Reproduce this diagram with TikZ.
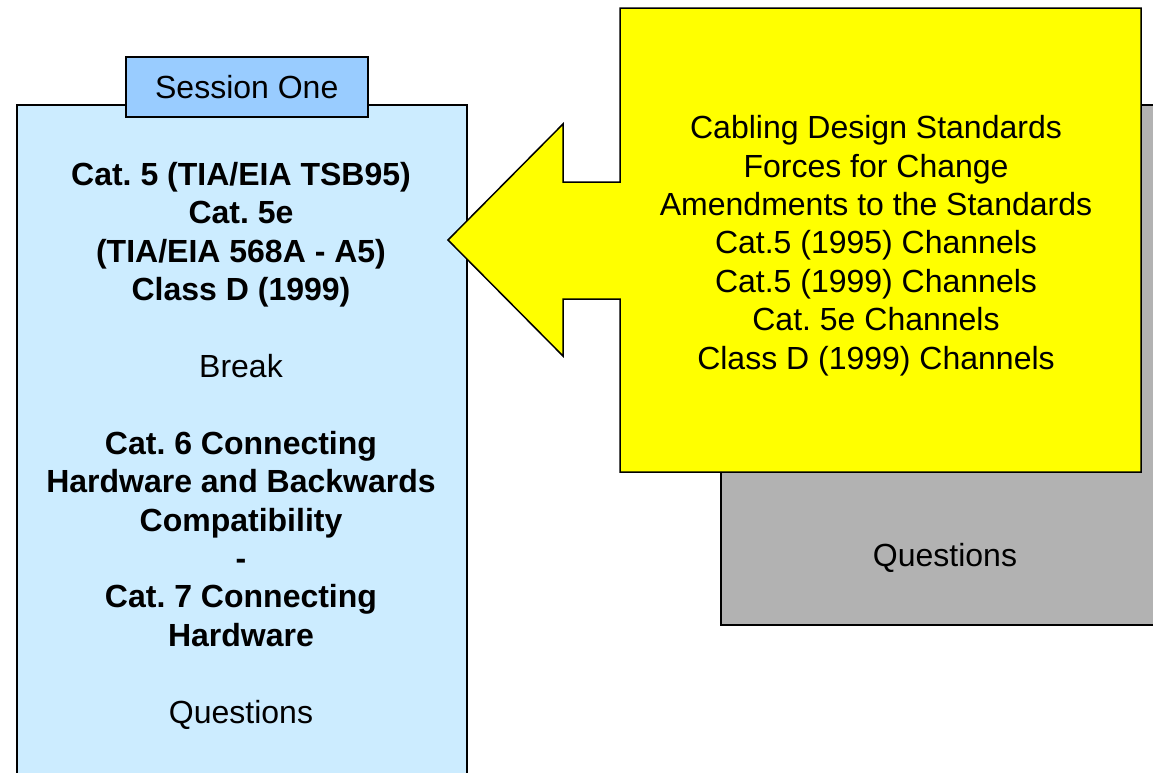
\documentclass[tikz,border=0pt]{standalone}
\usepackage{fontspec}
\setmainfont{Liberation Sans}
\frenchspacing
\definecolor{lightblue}{HTML}{CCECFF}
\definecolor{tabblue}{HTML}{99CCFF}
\definecolor{boxgray}{HTML}{B2B2B2}
\definecolor{hiyellow}{HTML}{FFFF00}
\tikzset{
  panel/.style={draw=black, line width=1.5pt, inner sep=0pt, anchor=north west},
  txt/.style={align=center, inner sep=0pt, font=\fontsize{32}{38.4}\selectfont\frenchspacing},
}
\begin{document}
\begin{tikzpicture}[x=1pt, y=-1pt]
\useasboundingbox (0,0) rectangle (1153,772);
\fill[white] (0,0) rectangle (1153,772);
\begin{scope}
\clip (0,0) rectangle (1153,772);
% session panel
\node[panel, fill=lightblue, minimum width=450pt, minimum height=720pt] (session) at (16,104) {};
% gray panel behind
\node[panel, fill=boxgray, minimum width=450pt, minimum height=520pt] (graybox) at (720,104) {};
\end{scope}
% yellow callout with arrow
\draw[line width=1.5pt, fill=hiyellow, line join=miter]
  (620,8) -- (1141,8) -- (1141,472) -- (620,472) -- (620,299) -- (563,299)
  -- (563,356) -- (448,240) -- (563,124) -- (563,182) -- (620,182) -- cycle;
% tab
\node[panel, fill=tabblue, minimum width=242pt, minimum height=60pt] (tab) at (125,56) {};
\node[txt] (tablabel) at (tab.center) {Session One};
% session text
\node[txt, anchor=base] (sessiontext) at (241,723) {%
\textbf{Cat. 5 (TIA/EIA TSB95)}\\
\textbf{Cat. 5e}\\
\textbf{(TIA/EIA 568A - A5)}\\
\textbf{Class D (1999)}\\[38.4pt]
Break\\[38.4pt]
\textbf{Cat. 6 Connecting}\\
\textbf{Hardware and Backwards}\\
\textbf{Compatibility}\\
\textbf{-}\\
\textbf{Cat. 7 Connecting}\\
\textbf{Hardware}\\[38.4pt]
Questions};
% yellow text
\node[txt, anchor=base] (yellowtext) at (876,369) {%
Cabling Design Standards\\
Forces for Change\\
Amendments to the Standards\\
Cat.5 (1995) Channels\\
Cat.5 (1999) Channels\\
Cat. 5e Channels\\
Class D (1999) Channels};
% gray text
\node[txt] (graytext) at (945,558) {Questions};
\end{tikzpicture}
\end{document}
